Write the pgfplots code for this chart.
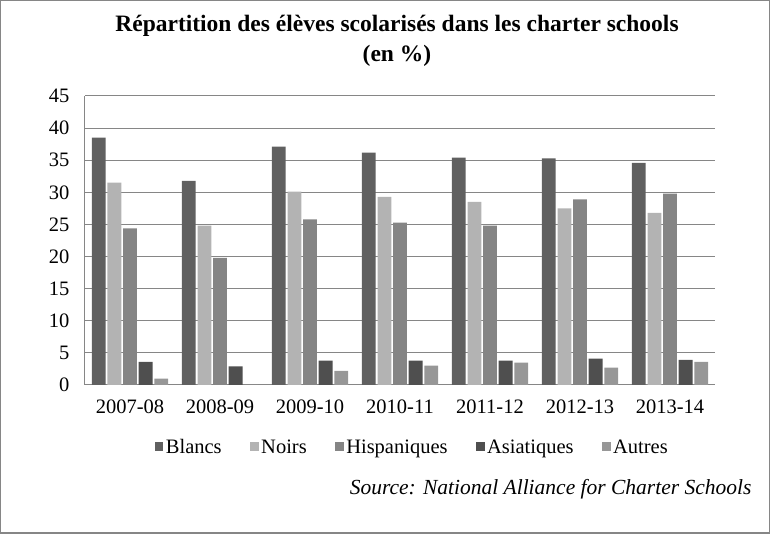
\documentclass[border=0pt]{standalone}
\usepackage{fontspec}
\setmainfont{Liberation Serif}
\usepackage{pgfplots}
\pgfplotsset{compat=1.18}

\definecolor{cBlancs}{HTML}{606060}
\definecolor{cNoirs}{HTML}{B3B3B3}
\definecolor{cHisp}{HTML}{858585}
\definecolor{cAsia}{HTML}{4F4F4F}
\definecolor{cAutres}{HTML}{979797}
\definecolor{gridgray}{HTML}{868686}

\begin{document}
\begin{tikzpicture}
% frame of the whole chart
\useasboundingbox (-85pt,-149pt) rectangle (685pt,385pt);
\draw[gridgray, line width=1.5pt] (-84.25pt,-148.25pt) rectangle (684.25pt,384.25pt);
\begin{axis}[
    at={(0pt,0pt)}, anchor=south west,
    scale only axis,
    width=630pt, height=289pt,
    ybar=1.8pt,
    bar width=13.8pt,
    xmin=-0.5, xmax=6.5,
    ymin=0, ymax=45,
    ytick={0,5,...,45},
    xtick=data,
    xticklabels={2007-08,2008-09,2009-10,2010-11,2011-12,2012-13,2013-14},
    axis x line*=bottom,
    axis y line*=left,
    axis line style={gridgray, line width=1pt},
    ymajorgrids,
    major grid style={gridgray, line width=1pt},
    major tick length=0pt,
    tick style={draw=none},
    /pgf/number format/assume math mode=true,
    tick label style={font=\fontsize{20.5}{24}\selectfont},
    yticklabel style={xshift=-12pt},
    xticklabel style={yshift=-11pt},
    legend columns=5,
    legend style={
        at={(rel axis cs:0.52,0)}, anchor=center, yshift=-62pt,
        draw=none, fill=none,
        font=\fontsize{20.5}{24}\selectfont,
        nodes={inner xsep=2.5pt},
        /tikz/every even column/.append style={column sep=26pt},
    },
    legend image code/.code={
        \fill[#1, draw=none] (0pt,-4pt) rectangle (8.5pt,4.5pt);
    },
    every axis plot/.append style={draw=none},
]
\addplot[fill=cBlancs] coordinates
{(0,38.5) (1,31.8) (2,37.1) (3,36.2) (4,35.4) (5,35.3) (6,34.6)};
\addplot[fill=cNoirs] coordinates
{(0,31.5) (1,24.8) (2,30.1) (3,29.3) (4,28.5) (5,27.5) (6,26.8)};
\addplot[fill=cHisp] coordinates
{(0,24.4) (1,19.8) (2,25.8) (3,25.3) (4,24.8) (5,28.9) (6,29.8)};
\addplot[fill=cAsia] coordinates
{(0,3.6) (1,2.9) (2,3.8) (3,3.8) (4,3.8) (5,4.1) (6,3.9)};
\addplot[fill=cAutres] coordinates
{(0,1.0) (1,0) (2,2.2) (3,3.0) (4,3.5) (5,2.7) (6,3.6)};
\legend{Blancs, Noirs, Hispaniques, Asiatiques, Autres}
\end{axis}
\node[font=\fontsize{23.5}{30}\selectfont\bfseries, align=center, anchor=north]
    at (312pt,373pt) {Répartition des élèves scolarisés dans les charter schools\\(en \%)};
\node[font=\fontsize{21.5}{24}\selectfont\itshape, anchor=base east]
    at (670pt,-110pt) {Source: National Alliance for Charter Schools};
\end{tikzpicture}
\end{document}
